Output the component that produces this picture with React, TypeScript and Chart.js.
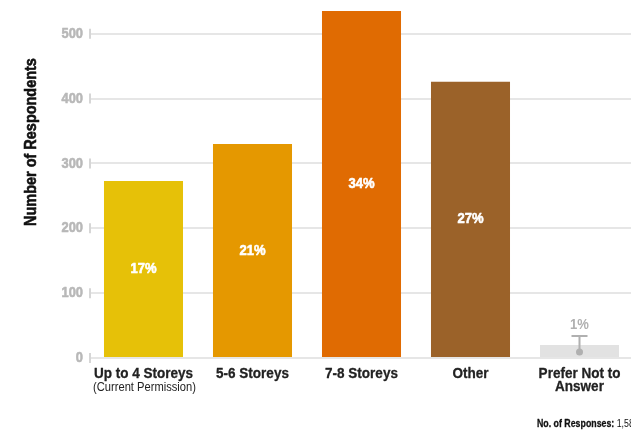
import React, { useEffect, useRef } from "react";
import { Chart, registerables } from "chart.js";

Chart.register(...registerables);

const categoryLines: string[][] = [
  ["Up to 4 Storeys"],
  ["5-6 Storeys"],
  ["7-8 Storeys"],
  ["Other"],
  ["Prefer Not to", "Answer"],
];
const subLabels = ["(Current Permission)", "", "", "", ""];
const respondents = [273, 330, 535, 426, 20];
const shares = [17, 21, 34, 27, 1];
const barColors = ["#E6C108", "#E59800", "#E06B02", "#9B6229", "#E2E2E2"];
const yTicks = [0, 100, 200, 300, 400, 500];
const yTitle = "Number of Respondents";
const footnoteLabel = "No. of Responses:";
const footnoteValue = "1,588";

const FAM = '"Liberation Sans", Arial, Helvetica, sans-serif';

function drawText(
  ctx: CanvasRenderingContext2D,
  text: string,
  x: number,
  y: number,
  font: string,
  color: string,
  sx: number,
  align: CanvasTextAlign = "center",
  heavy = 0
) {
  ctx.save();
  ctx.font = font;
  ctx.fillStyle = color;
  ctx.textAlign = align;
  ctx.textBaseline = "middle";
  ctx.translate(x, y);
  ctx.scale(sx, 1);
  ctx.fillText(text, 0, 0);
  if (heavy > 0) {
    ctx.strokeStyle = color;
    ctx.lineWidth = heavy;
    ctx.lineJoin = "round";
    ctx.strokeText(text, 0, 0);
  }
  ctx.restore();
}

const overlay = {
  id: "overlay",
  afterDraw(chart: any) {
    const { ctx, chartArea, scales } = chart;
    const x = scales.x;
    const y = scales.y;
    ctx.save();
    // short tick marks at the start of each grid line + tick labels
    ctx.strokeStyle = "#d6d6d6";
    ctx.lineWidth = 2;
    yTicks.forEach((v) => {
      const py = y.getPixelForValue(v);
      ctx.beginPath();
      ctx.moveTo(chartArea.left + 1, py - 5);
      ctx.lineTo(chartArea.left + 1, py + 5);
      ctx.stroke();
      drawText(ctx, String(v), chartArea.left - 6, py, `bold 15px ${FAM}`, "#b8b8b8", 0.86, "right", 0.6);
    });

    // y-axis title
    ctx.save();
    ctx.translate(chartArea.left - 58, chartArea.top + 142);
    ctx.rotate(-Math.PI / 2);
    drawText(ctx, yTitle, 0, 0, `bold 17px ${FAM}`, "#111", 0.85, "center", 0.6);
    ctx.restore();

    // category labels
    categoryLines.forEach((lines, i) => {
      const px = x.getPixelForValue(i);
      let py = chartArea.bottom + 16;
      lines.forEach((ln) => {
        drawText(ctx, ln, px, py, `bold 15px ${FAM}`, "#222", 0.9, "center", 0.3);
        py += 13;
      });
      if (subLabels[i]) {
        drawText(ctx, subLabels[i], px + 1, chartArea.bottom + 30, `12px ${FAM}`, "#222", 0.93);
      }
    });

    // bar labels
    const meta = chart.getDatasetMeta(0);
    meta.data.forEach((bar: any, i: number) => {
      const text = `${shares[i]}%`;
      if (shares[i] >= 5) {
        drawText(ctx, text, bar.x, (bar.y + bar.base) / 2, `bold 15px ${FAM}`, "#ffffff", 0.87, "center", 0.6);
      } else {
        const cy = (bar.y + bar.base) / 2;
        ctx.fillStyle = "#b0b0b0";
        ctx.strokeStyle = "#b0b0b0";
        ctx.lineWidth = 2;
        ctx.beginPath();
        ctx.arc(bar.x, cy + 1, 3.5, 0, Math.PI * 2);
        ctx.fill();
        const topY = bar.y - 9;
        ctx.beginPath();
        ctx.moveTo(bar.x, cy);
        ctx.lineTo(bar.x, topY);
        ctx.moveTo(bar.x - 8, topY);
        ctx.lineTo(bar.x + 8, topY);
        ctx.stroke();
        drawText(ctx, text, bar.x, topY - 11, `bold 15px ${FAM}`, "#b0b0b0", 0.87);
      }
    });

    // footnote
    const fx = 537;
    const fy = 424;
    drawText(ctx, footnoteLabel, fx, fy, `bold 11px ${FAM}`, "#111", 0.8, "left", 0.3);
    ctx.font = `bold 11px ${FAM}`;
    const w = ctx.measureText(footnoteLabel + " ").width * 0.8;
    drawText(ctx, footnoteValue, fx + w, fy, `11px ${FAM}`, "#111", 0.8, "left");
    ctx.restore();
  },
};

export default function App() {
  const ref = useRef<HTMLCanvasElement | null>(null);
  useEffect(() => {
    if (!ref.current) return;
    const chart = new Chart(ref.current, {
      type: "bar",
      data: {
        labels: categoryLines.map((l) => l.join(" ")),
        datasets: [
          {
            data: respondents,
            backgroundColor: barColors,
            borderWidth: 0,
            categoryPercentage: 1,
            barPercentage: 0.725,
          },
        ],
      },
      options: {
        animation: false,
        responsive: true,
        maintainAspectRatio: false,
        layout: { padding: { top: 0, right: 6, bottom: 74, left: 0 } },
        plugins: {
          legend: { display: false },
          tooltip: { enabled: false },
        },
        scales: {
          x: {
            afterFit: (axis: any) => {
              axis.height = 0;
              axis.paddingLeft = 0;
              axis.paddingRight = 0;
            },
            ticks: { display: false },
            grid: { display: false },
            border: { display: false },
          },
          y: {
            min: 0,
            max: 552,
            afterFit: (axis: any) => {
              axis.width = 89;
              axis.paddingTop = 0;
              axis.paddingBottom = 0;
            },
            ticks: {
              stepSize: 100,
              includeBounds: false,
              display: false,
            },
            grid: {
              color: "#e6e6e6",
              lineWidth: 2,
              drawTicks: false,
            },
            border: { display: false },
          },
        },
      },
      plugins: [overlay],
    });
    return () => chart.destroy();
  }, []);
  return (
    <div style={{ position: "fixed", left: 0, top: 0, width: 631, height: 432, overflow: "hidden", background: "#fff" }}>
      <div style={{ width: 640, height: 432, position: "relative" }}>
        <canvas ref={ref} />
      </div>
    </div>
  );
}
